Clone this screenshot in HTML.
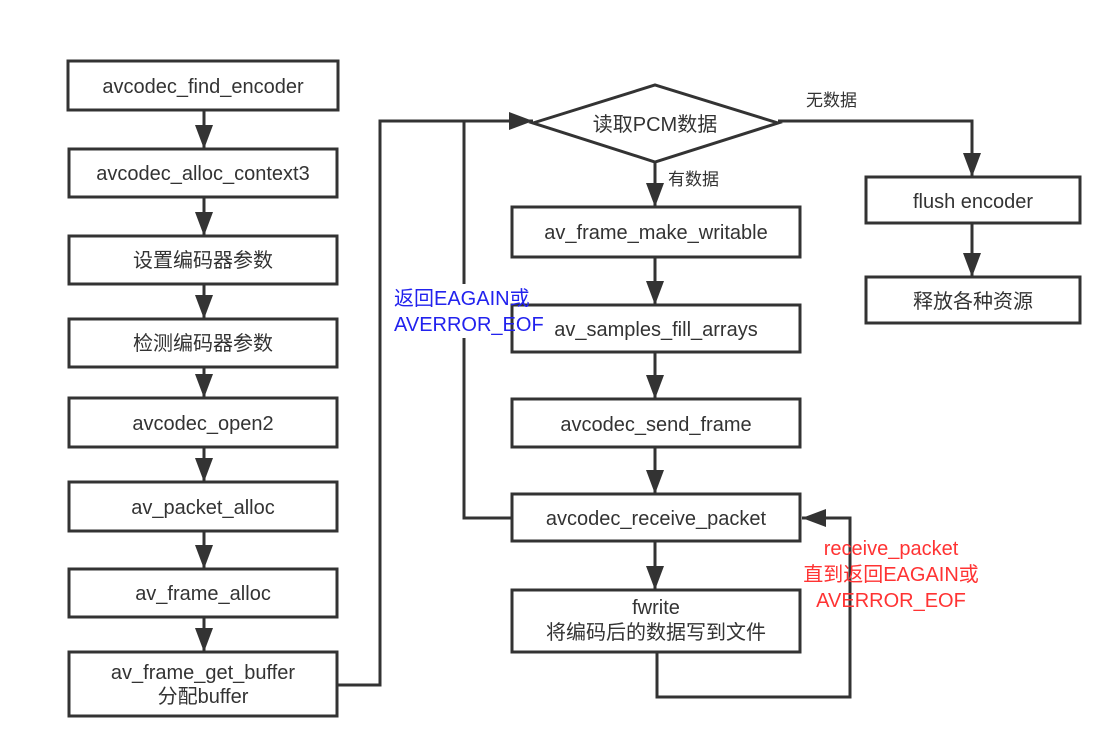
<!DOCTYPE html>
<html><head><meta charset="utf-8"><style>
body{margin:0;background:#fff;width:1112px;height:747px;overflow:hidden}
svg text{font-family:"Liberation Sans","Noto Sans CJK SC",sans-serif;font-size:20px;fill:#333}
</style></head><body>
<svg width="1112" height="747" xmlns="http://www.w3.org/2000/svg">
<defs>
<marker id="b" markerWidth="24" markerHeight="18" refX="24" refY="9" orient="auto" markerUnits="userSpaceOnUse"><path d="M0,0 L24,9 L0,18z" fill="#333"/></marker></defs>
<g fill="none" stroke="#333" stroke-width="3">
<rect x="68" y="61" width="270" height="49"/>
<rect x="69" y="149" width="268" height="48"/>
<rect x="69" y="236" width="268" height="48"/>
<rect x="69" y="319" width="268" height="48"/>
<rect x="69" y="398" width="268" height="49"/>
<rect x="69" y="482" width="268" height="49"/>
<rect x="69" y="569" width="268" height="48"/>
<rect x="69" y="652" width="268" height="64"/>
<path d="M533,123 L655,85 L778,123 L655,162 Z"/>
<rect x="512" y="207" width="288" height="50"/>
<rect x="512" y="305" width="288" height="47"/>
<rect x="512" y="399" width="288" height="48"/>
<rect x="512" y="494" width="288" height="47"/>
<rect x="512" y="590" width="288" height="62"/>
<rect x="866" y="177" width="214" height="46"/>
<rect x="866" y="277" width="214" height="46"/>
</g>
<g fill="none" stroke="#333" stroke-width="3" marker-end="url(#b)">
<line x1="204" y1="110" x2="204" y2="149"/>
<line x1="204" y1="197" x2="204" y2="236"/>
<line x1="204" y1="284" x2="204" y2="319"/>
<line x1="204" y1="367" x2="204" y2="398"/>
<line x1="204" y1="447" x2="204" y2="482"/>
<line x1="204" y1="531" x2="204" y2="569"/>
<line x1="204" y1="617" x2="204" y2="652"/>
<polyline points="338,685 380,685 380,121 533,121"/>
<line x1="655" y1="162" x2="655" y2="207"/>
<line x1="655" y1="257" x2="655" y2="305"/>
<line x1="655" y1="352" x2="655" y2="399"/>
<line x1="655" y1="447" x2="655" y2="494"/>
<line x1="655" y1="541" x2="655" y2="590"/>
<polyline points="778,121 972,121 972,177"/>
<line x1="972" y1="223" x2="972" y2="277"/>
<polyline points="657,652 657,697 850,697 850,518 802,518"/>
</g>
<polyline points="512,518 464,518 464,121" fill="none" stroke="#333" stroke-width="3"/>
<rect x="392" y="284" width="118" height="54" fill="#fff"/>
<g text-anchor="middle">
<text x="203" y="93">avcodec_find_encoder</text>
<text x="203" y="180">avcodec_alloc_context3</text>
<text x="203" y="267">设置编码器参数</text>
<text x="203" y="350">检测编码器参数</text>
<text x="203" y="430">avcodec_open2</text>
<text x="203" y="514">av_packet_alloc</text>
<text x="203" y="600">av_frame_alloc</text>
<text x="203" y="679">av_frame_get_buffer</text>
<text x="203" y="703">分配buffer</text>
<text x="655" y="131">读取PCM数据</text>
<text x="656" y="239">av_frame_make_writable</text>
<text x="656" y="336">av_samples_fill_arrays</text>
<text x="656" y="431">avcodec_send_frame</text>
<text x="656" y="525">avcodec_receive_packet</text>
<text x="656" y="614">fwrite</text>
<text x="656" y="639">将编码后的数据写到文件</text>
<text x="973" y="208">flush encoder</text>
<text x="973" y="308">释放各种资源</text>
<text x="891" y="555" style="fill:#ff3333">receive_packet</text>
<text x="891" y="581" style="fill:#ff3333">直到返回EAGAIN或</text>
<text x="891" y="607" style="fill:#ff3333">AVERROR_EOF</text>
</g>
<text x="394" y="305" style="fill:#2222ee">返回EAGAIN或</text>
<text x="394" y="331" style="fill:#2222ee">AVERROR_EOF</text>
<text x="806" y="106" style="font-size:17px">无数据</text>
<text x="668" y="185" style="font-size:17px">有数据</text>
</svg>
</body></html>
